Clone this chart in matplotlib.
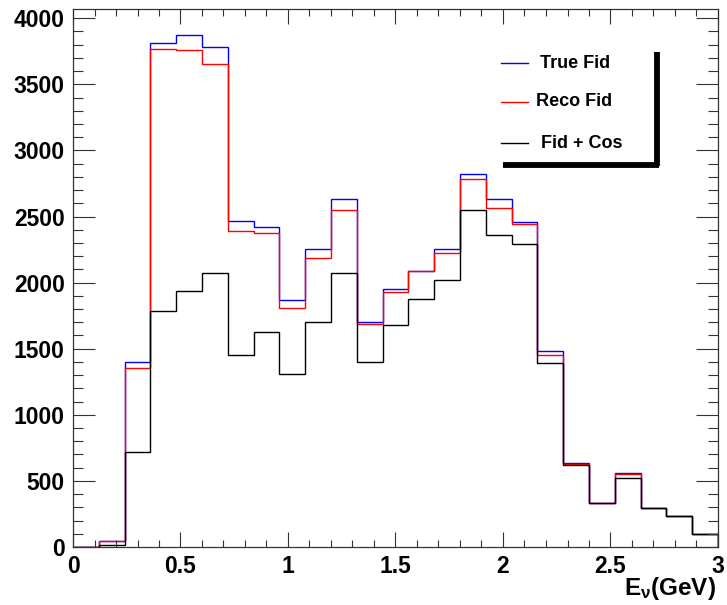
import numpy as np
import matplotlib
matplotlib.use('Agg')
import matplotlib.pyplot as plt
from matplotlib.lines import Line2D

# Fonts: Arial-like bold everywhere (ROOT style)
plt.rcParams['font.family'] = ['Liberation Sans', 'DejaVu Sans']
plt.rcParams['font.weight'] = 'bold'
plt.rcParams['mathtext.fontset'] = 'custom'
plt.rcParams['mathtext.rm'] = 'Liberation Sans:bold'
plt.rcParams['mathtext.it'] = 'Liberation Sans:bold'
plt.rcParams['mathtext.bf'] = 'Liberation Sans:bold'

# Histogram binning: 25 bins over 0-3 GeV
N_BINS = 25
X_MIN, X_MAX = 0.0, 3.0

# Bin contents
true_fid = [0, 43, 1399, 3816, 3876, 3781, 2467, 2422, 1865, 2256, 2629, 1699, 1953,
            2089, 2253, 2820, 2629, 2455, 1480, 638, 336, 560, 292, 234, 98]
reco_fid = [0, 43, 1356, 3766, 3758, 3657, 2392, 2372, 1805, 2188, 2548, 1686, 1928,
            2089, 2223, 2783, 2563, 2440, 1449, 630, 335, 550, 292, 234, 98]
fid_cos = [0, 15, 716, 1782, 1938, 2069, 1449, 1623, 1306, 1702, 2074, 1401, 1681,
           1878, 2019, 2548, 2362, 2289, 1394, 620, 333, 522, 292, 234, 98]

series_names = ['True Fid', 'Reco Fid', 'Fid + Cos']
series_colors = ['#0000ff', '#ff0000', '#000000']

W, H = 727, 605
fig = plt.figure(figsize=(W / 100, H / 100), dpi=100)
ax = fig.add_axes([73 / W, 1 - 547 / H, (718 - 73) / W, (547 - 9) / H])

edges = np.linspace(X_MIN, X_MAX, N_BINS + 1)
for vals, col in zip([true_fid, reco_fid, fid_cos], series_colors):
    ax.stairs(vals, edges, baseline=0, color=col, linewidth=1.0)

ax.set_xlim(X_MIN, X_MAX)
ax.set_ylim(0, 1.05 * max(true_fid))

# ROOT-like ticks: inward, on all four sides
ax.set_xticks(np.arange(0, 3.01, 0.5))
ax.set_xticks(np.arange(0, 3.01, 0.1), minor=True)
ax.set_yticks(np.arange(0, 4001, 500))
ax.set_yticks(np.arange(0, 4001, 100), minor=True)
ax.set_xticklabels(['0', '0.5', '1', '1.5', '2', '2.5', '3'])
ax.tick_params(which='both', direction='in', top=True, right=True, width=0.8, color='#333333')
ax.tick_params(axis='y', which='major', length=15.5, pad=6, labelsize=16.5)
ax.tick_params(axis='y', which='minor', length=7.5)
ax.tick_params(axis='x', which='major', length=11, pad=6, labelsize=16.5)
ax.tick_params(axis='x', which='minor', length=5)
for sp in ax.spines.values():
    sp.set_linewidth(0.9)
    sp.set_color('#333333')

# x title, right aligned under the axis end
fig.text(716 / W, 1 - 595 / H, r'$\mathbf{E}_{\nu}\mathbf{(GeV)}$', fontsize=17.5,
         ha='right', va='baseline')

# Legend drawn by hand, ROOT TLegend with shadow
leg_y = [63, 102, 143]
leg_tx = [540, 536, 541]
for name, col, y, tx in zip(series_names, series_colors, leg_y, leg_tx):
    fig.add_artist(Line2D([501 / W, 528 / W], [1 - y / H, 1 - y / H], color=col, linewidth=1.0))
    fig.text(tx / W, 1 - y / H, name, fontsize=13, fontweight='bold', va='center', ha='left')

fig.add_artist(Line2D([657 / W, 657 / W], [1 - 52 / H, 1 - 166 / H], color='black', linewidth=4.2,
                      solid_capstyle='butt'))
fig.add_artist(Line2D([503 / W, 659 / W], [1 - 165 / H, 1 - 165 / H], color='black', linewidth=4.2,
                      solid_capstyle='butt'))

fig.savefig('out.png', dpi=100)
